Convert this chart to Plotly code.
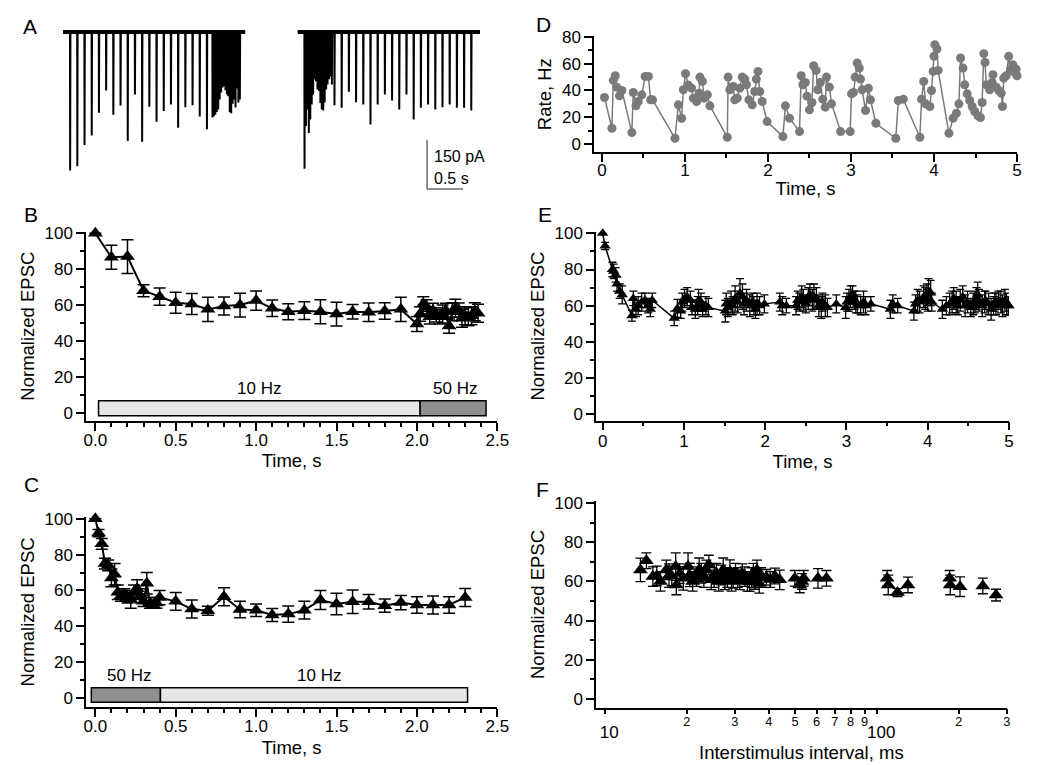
import plotly.graph_objects as go

W, H = 1044, 765
FONT = "Liberation Sans, Arial, Helvetica, sans-serif"

# ---------------- Panel A: example current traces ----------------
a_sweep_len = 2.53          # s
a_right_offset = 3.26       # s, start of the second sweep on the shared time axis
a_left_10hz_start = 0.097
a_left_50hz_start = 2.074
a_right_50hz_start = 0.092
a_right_10hz_start = 0.508
a_left_10hz_amp = [424, 411, 346, 317, 247, 179, 253, 225, 334, 191,
                   336, 229, 275, 242, 222, 293, 230, 224, 259, 298]
a_left_50hz_amp = [262, 258, 253, 245, 237, 207, 185, 170, 166, 178,
                   191, 197, 246, 249, 220, 207, 231, 173, 216, 207]
a_right_50hz_amp = [419, 288, 237, 309, 268, 222, 191, 145, 151, 176,
                    181, 217, 237, 240, 216, 176, 161, 145, 136, 161]
a_right_10hz_amp = [224, 232, 183, 215, 222, 283, 222, 191, 210, 237,
                    191, 268, 232, 222, 237, 230, 222, 232, 232, 240]
scale_t = 0.5    # s
scale_pA = 150   # pA

# ---------------- Panel B ----------------
b_time = [0.0, 0.1, 0.2, 0.3, 0.4, 0.5, 0.6, 0.7, 0.8, 0.9,
          1.0, 1.1, 1.2, 1.3, 1.4, 1.5, 1.6, 1.7, 1.8, 1.9,
          2.0, 2.02, 2.04, 2.06, 2.08, 2.10, 2.12, 2.14, 2.16, 2.18,
          2.20, 2.22, 2.24, 2.26, 2.28, 2.30, 2.32, 2.34, 2.36, 2.38]
b_val = [100, 86.6, 87, 68, 64.7, 61.3, 60.6, 57.6, 59.5, 60,
         62.5, 58.2, 56.3, 56.9, 56.3, 55, 56.3, 56, 56.7, 57.6,
         49.4, 55, 60.6, 59, 53.5, 57, 54.5, 53.5, 55, 57,
         48.3, 56.3, 58.2, 57.2, 52.6, 54, 53.5, 54, 56.3, 55.4]
b_err = [None, 6.7, 9.4, 3.3, 4.8, 5.9, 5.8, 6.7, 5, 6.6,
         5.4, 4.6, 4.5, 4.9, 6.7, 6.6, 4, 5.1, 4.6, 6.7,
         4.2, 4, 4, 4, 4, 4, 4, 4, 5, 4,
         4, 5, 5, 4, 5, 5, 5, 5, 5, 5]
b_bar_labels = ["10 Hz", "50 Hz"]
b_bar_start = [0.02, 2.02]
b_bar_end = [2.02, 2.43]

# ---------------- Panel C ----------------
c_time = [0.0, 0.02, 0.04, 0.06, 0.08, 0.10, 0.12, 0.14, 0.16, 0.18,
          0.20, 0.22, 0.24, 0.26, 0.28, 0.30, 0.32, 0.34, 0.36, 0.38,
          0.4, 0.5, 0.6, 0.7, 0.8, 0.9, 1.0, 1.1, 1.2, 1.3,
          1.4, 1.5, 1.6, 1.7, 1.8, 1.9, 2.0, 2.1, 2.2, 2.3]
c_val = [100, 92, 86, 75, 74, 67, 69, 59, 57, 58,
         56, 55, 59, 61, 57, 54, 64, 53, 52, 53,
         56, 53.9, 49.6, 48.7, 56.5, 49.4, 49, 46.3, 46.8, 49,
         54.6, 52.4, 53.7, 53.7, 51.5, 53.2, 51.9, 51.9, 51.9, 56.1]
c_err = [None, 2, 3, 3, 3, 5, 6, 4, 3, 3,
         3, 5, 4, 5, 4, 3, 6, 3, 2, 3,
         4, 5, 5, 2.5, 5, 4.6, 3.5, 3.6, 4.5, 5,
         5.3, 6, 6.5, 4, 3.7, 4, 4.6, 5, 4.6, 5]
c_bar_labels = ["50 Hz", "10 Hz"]
c_bar_start = [-0.025, 0.405]
c_bar_end = [0.405, 2.315]

# ---------------- Panel D: instantaneous rate ----------------
d_time = [0.03, 0.12, 0.136, 0.16, 0.177, 0.21, 0.24, 0.36, 0.377, 0.41,
          0.437, 0.48, 0.52, 0.56, 0.586, 0.61, 0.88, 0.92, 0.96, 0.98,
          1.007, 1.04, 1.08, 1.10, 1.14, 1.17, 1.18, 1.21, 1.23, 1.27,
          1.30, 1.51, 1.52, 1.54, 1.58, 1.60, 1.63, 1.66, 1.69, 1.72,
          1.74, 1.77, 1.81, 1.84, 1.86, 1.88, 1.90, 1.93, 1.99, 2.18,
          2.21, 2.26, 2.38, 2.40, 2.42, 2.45, 2.47, 2.50, 2.53, 2.55,
          2.58, 2.60, 2.63, 2.66, 2.69, 2.705, 2.74, 2.766, 2.875, 2.99,
          3.006, 3.03, 3.05, 3.075, 3.10, 3.115, 3.135, 3.175, 3.21, 3.235,
          3.30, 3.54, 3.57, 3.63, 3.83, 3.85, 3.876, 3.90, 3.95, 3.97,
          3.99, 4.00, 4.01, 4.036, 4.05, 4.18, 4.23, 4.27, 4.30, 4.32,
          4.35, 4.37, 4.40, 4.43, 4.46, 4.49, 4.53, 4.56, 4.58, 4.60,
          4.615, 4.63, 4.67, 4.70, 4.71, 4.75, 4.78, 4.81, 4.825, 4.84,
          4.87, 4.90, 4.92, 4.95, 4.97, 4.99, 5.0]
d_rate = [34.75, 11.75, 47.5, 51, 42.5, 36, 40, 8.5, 38.5, 28.5,
          31.75, 36.75, 50.5, 50.5, 33, 33, 4.25, 29.25, 19.25, 40.5,
          52.5, 44, 41.75, 34.25, 31.75, 38, 50, 46.75, 34.25, 36.75,
          28.5, 5, 50, 40.5, 43, 33, 34.25, 41.75, 50, 48.5,
          44.25, 33, 29.25, 39.25, 48.5, 54.25, 39.25, 31.75, 16.75, 5.5,
          28.5, 19.25, 9.25, 51, 44.25, 46, 35.75, 25.5, 31, 58.5,
          55, 40.5, 46, 33.5, 27.5, 50, 42.5, 30, 9.25, 9.25,
          37.5, 38.5, 50, 60.5, 56.75, 48.5, 40.5, 25, 41.75, 33,
          15.5, 4.25, 32.5, 33.5, 5, 33.5, 46.75, 30, 28, 40,
          54.25, 65.5, 74.25, 71, 55, 8, 19.25, 23, 30, 64.25,
          56.75, 44.25, 37.5, 32.5, 28, 24.25, 21, 19.75, 31, 67.5,
          61, 44.25, 40.5, 46, 51.75, 42.5, 40, 38, 28, 49.25,
          51, 65.5, 55.5, 59.25, 53.5, 56, 51]

# ---------------- Panel E: EPSC during the irregular train ----------------
e_time = [0.0] + d_time
e_val = [100, 93, 80, 79, 77, 72, 68, 66, 54.5, 64,
         58, 60, 62, 63, 60, 58, 63, 53, 58.5, 57,
         62, 64, 65, 63, 59, 58, 60, 63, 62, 58,
         60, 59, 57, 61, 59, 62, 60, 64, 62, 67,
         65, 61, 63, 60, 62, 60, 58, 61, 60, 61,
         62, 60, 60, 60, 63, 62, 65, 63, 61, 64,
         66, 63, 65, 64, 60, 59, 62, 60, 59, 61,
         59, 62, 63, 65, 66, 63, 62, 61, 60, 62,
         60, 61, 58, 61, 60, 57, 61, 63, 62, 65,
         64, 66, 63, 68, 67, 62, 58, 60, 61, 62,
         64, 62, 60, 63, 65, 60, 62, 59, 61, 62,
         64, 66, 63, 60, 62, 63, 61, 58, 60, 62,
         61, 63, 62, 60, 63, 61, 60, 60]
e_err = [None, 2, 4, 4, 4, 4, 4, 5, 3, 4,
         4, 5, 5, 4, 4, 4, 4, 4, 5, 4,
         5, 5, 5, 5, 4, 5, 5, 6, 5, 4,
         5, 5, 6, 6, 5, 6, 5, 7, 6, 8,
         7, 6, 6, 6, 5, 5, 5, 6, 5, 5,
         5, 5, 4, 5, 5, 5, 6, 6, 5, 6,
         6, 6, 7, 6, 6, 6, 5, 6, 5, 5,
         6, 5, 6, 6, 5, 5, 6, 5, 5, 6,
         5, 4, 5, 5, 4, 5, 5, 6, 6, 6,
         6, 6, 6, 7, 7, 5, 5, 5, 6, 6,
         6, 6, 5, 6, 6, 6, 6, 5, 6, 6,
         6, 7, 6, 6, 6, 5, 6, 6, 5, 5,
         6, 5, 6, 6, 6, 6, 5, 5]

# ---------------- Panel F: EPSC vs interstimulus interval ----------------
f_isi = [13.5, 14.2, 15.0, 15.5, 16.0, 16.8, 17.2, 17.6, 18.2, 18.3,
         18.8, 19.4, 20.2, 20.5, 21.0, 21.7, 22.2, 22.6, 23.1, 23.6,
         24.1, 24.6, 25.2, 25.7, 26.2, 26.8, 27.2, 27.6, 28.2, 28.8,
         29.2, 29.6, 30.2, 30.8, 31.3, 32.0, 32.7, 33.4, 34.0, 34.6,
         35.1, 35.6, 36.2, 36.9, 37.5, 39.2, 40.5, 42.1, 43.9, 49.9,
         52.0, 53.0, 53.8, 60.7, 65.2, 109, 110, 119, 130, 185,
         186, 202, 245, 274]
f_val = [65.9, 70.6, 62.5, 62.8, 60, 65.9, 63, 62.8, 67.6, 58.2,
         64, 61.6, 67.6, 63.3, 60, 62.5, 66, 64.2, 62, 65.9,
         68.4, 60.8, 63, 64.2, 60, 63.3, 66, 60.8, 62, 65,
         60, 61.6, 64.2, 62, 60.8, 64, 62.5, 60, 59.9, 62,
         64.2, 61, 65.9, 59, 62, 62.1, 61, 62.8, 60.8, 61.6,
         58.2, 60, 61.6, 61.6, 61.6, 61.6, 58.2, 54.3, 58.2, 61.6,
         58.2, 57.3, 57.7, 53]
f_err = [6, 4, 5, 5, 5, 5, 6, 5, 7, 5, 5, 6, 7, 6, 5, 5, 6, 5, 5, 5,
         5, 5, 6, 5, 5, 5, 6, 5, 5, 6, 5, 5, 5, 5, 5, 5, 5, 5, 5, 5,
         5, 5, 5, 5, 5, 4, 4, 4, 5, 4, 4, 4, 4, 5, 4, 4, 5, 2, 4, 4,
         5, 5, 4, 3]

# =================================================================
TICK_SIZE = 17
TITLE_SIZE = 18.5


def fx(p):
    return p / W


def fy(p):
    return 1 - p / H


fig = go.Figure()

# ---- Panel A traces (axis x6/y6) ----
def build_sweep(offset, trains):
    xs, ys = [offset], [0]
    for start, period, amps in trains:
        for k, a in enumerate(amps):
            t = offset + start + k * period
            xs += [t, t + 0.002, t + 0.006]
            ys += [0, -a, 0]
    xs.append(offset + a_sweep_len)
    ys.append(0)
    return xs, ys


sweeps = [
    (0.0, [(a_left_10hz_start, 0.1, a_left_10hz_amp), (a_left_50hz_start, 0.02, a_left_50hz_amp)]),
    (a_right_offset, [(a_right_50hz_start, 0.02, a_right_50hz_amp), (a_right_10hz_start, 0.1, a_right_10hz_amp)]),
]
for off, trains in sweeps:
    xs, ys = build_sweep(off, trains)
    fig.add_trace(go.Scatter(x=[off, off + a_sweep_len], y=[0, 0], mode="lines",
                             line=dict(color="black", width=4), xaxis="x6", yaxis="y6",
                             showlegend=False, hoverinfo="skip"))
    fig.add_trace(go.Scatter(x=xs, y=ys, mode="lines", line=dict(color="black", width=2),
                             xaxis="x6", yaxis="y6", showlegend=False, hoverinfo="skip"))

sb_x0 = 5.056
sb_y0 = -480.6
fig.add_trace(go.Scatter(x=[sb_x0, sb_x0, sb_x0 + scale_t], y=[sb_y0 + scale_pA, sb_y0, sb_y0],
                         mode="lines", line=dict(color="#222", width=1),
                         xaxis="x6", yaxis="y6", showlegend=False, hoverinfo="skip"))

# ---- Panel B ----
fig.add_trace(go.Scatter(x=b_time, y=b_val, mode="lines+markers", cliponaxis=False,
                         line=dict(color="black", width=2),
                         marker=dict(symbol="triangle-up", size=13, color="black"),
                         error_y=dict(type="data", array=b_err, color="black", thickness=1.5, width=6),
                         xaxis="x", yaxis="y", showlegend=False))
# ---- Panel C ----
fig.add_trace(go.Scatter(x=c_time, y=c_val, mode="lines+markers", cliponaxis=False,
                         line=dict(color="black", width=2),
                         marker=dict(symbol="triangle-up", size=13, color="black"),
                         error_y=dict(type="data", array=c_err, color="black", thickness=1.5, width=6),
                         xaxis="x2", yaxis="y2", showlegend=False))
# ---- Panel D ----
fig.add_trace(go.Scatter(x=d_time, y=d_rate, mode="lines+markers", cliponaxis=False,
                         line=dict(color="#7a7a7a", width=1.5),
                         marker=dict(symbol="circle", size=9, color="#7a7a7a"),
                         xaxis="x3", yaxis="y3", showlegend=False))
# ---- Panel E ----
fig.add_trace(go.Scatter(x=e_time, y=e_val, mode="lines+markers", cliponaxis=False,
                         line=dict(color="black", width=1.5),
                         marker=dict(symbol="triangle-up", size=10, color="black"),
                         error_y=dict(type="data", array=e_err, color="black", thickness=1.3, width=4),
                         xaxis="x4", yaxis="y4", showlegend=False))
# ---- Panel F ----
fig.add_trace(go.Scatter(x=f_isi, y=f_val, mode="markers",
                         marker=dict(symbol="triangle-up", size=13, color="black"),
                         error_y=dict(type="data", array=f_err, color="black", thickness=1.3, width=5),
                         xaxis="x5", yaxis="y5", showlegend=False))


def axis(domain, rng, anchor, title="", standoff=4, dtick=None, minor=None, ticklen=8, **kw):
    d = dict(domain=domain, range=rng, anchor=anchor, ticks="outside", ticklen=ticklen,
             tickwidth=1.5, tickcolor="black", showline=True, linecolor="black", linewidth=1.5,
             showgrid=False, zeroline=False, automargin=False,
             tickfont=dict(size=TICK_SIZE, color="black", family=FONT),
             title=dict(text=title, font=dict(size=TITLE_SIZE, color="black", family=FONT),
                        standoff=standoff))
    if dtick is not None:
        d["dtick"] = dtick
        d["tick0"] = 0
    if minor is not None:
        d["minor"] = dict(dtick=minor, tick0=0, ticks="outside", ticklen=4, tickwidth=1.5,
                          tickcolor="black", showgrid=False)
    d.update(kw)
    return d


yt = dict(tickvals=[0, 20, 40, 60, 80, 100])
layout = dict(
    width=W, height=H, autosize=False, margin=dict(l=0, r=0, t=0, b=0),
    paper_bgcolor="white", plot_bgcolor="white",
    font=dict(family=FONT, color="black"),
    # B
    xaxis=axis([fx(86), fx(497.3)], [-0.058, 2.5], "y", "Time, s", 4, 0.5, 0.1,
               tickformat=".1f", ticklabelstandoff=-5),
    yaxis=axis([fy(420.8), fy(231.5)], [-4.5, 101], "x", "Normalized EPSC", 5, None, 10, **yt),
    # C
    xaxis2=axis([fx(86), fx(497.3)], [-0.058, 2.5], "y2", "Time, s", 6, 0.5, 0.1,
                tickformat=".1f", ticklabelstandoff=-5),
    yaxis2=axis([fy(707), fy(516.9)], [-5, 101], "x2", "Normalized EPSC", 5, None, 10, **yt),
    # D
    xaxis3=axis([fx(594), fx(1017)], [-0.096, 5], "y3", "Time, s", 3, 1, 0.5,
                ticklabelstandoff=-6),
    yaxis3=axis([fy(152), fy(36.3)], [-6, 80.5], "x3", "Rate, Hz", 5, 20, 10),
    # E
    xaxis4=axis([fx(596), fx(1009)], [-0.082, 5], "y4", "Time, s", 5, 1, 0.5,
                ticklabelstandoff=-4),
    yaxis4=axis([fy(420.6), fy(231.5)], [-3.5, 101], "x4", "Normalized EPSC", 5, None, 10, **yt),
    # F
    xaxis5=axis([fx(596), fx(1006.7)], [0.967, 2.477], "y5", "Interstimulus interval, ms", 3,
                "D1", None, 5, type="log", ticklabelstandoff=-5),
    yaxis5=axis([fy(707.7), fy(501.3)], [-4.6, 101], "x5", "Normalized EPSC", 5, None, 10, **yt),
    # A
    xaxis6=dict(domain=[fx(60), fx(490)], range=[-0.0417, 5.93], visible=False, anchor="y6"),
    yaxis6=dict(domain=[fy(195), fy(25)], range=[-499, 21.4], visible=False, anchor="x6"),
)

shapes = []
bar_light, bar_dark = "#e6e6e6", "#8f8f8f"
for s, e, lab in zip(b_bar_start, b_bar_end, b_bar_labels):
    shapes.append(dict(type="rect", xref="x", yref="y", x0=s, x1=e, y0=-1.7, y1=6.7,
                       fillcolor=bar_light if lab == "10 Hz" else bar_dark,
                       line=dict(color="black", width=1.5), layer="above"))
for s, e, lab in zip(c_bar_start, c_bar_end, c_bar_labels):
    shapes.append(dict(type="rect", xref="x2", yref="y2", x0=s, x1=e, y0=-2.4, y1=5.8,
                       fillcolor=bar_light if lab == "10 Hz" else bar_dark,
                       line=dict(color="black", width=1.5), layer="above"))
layout["shapes"] = shapes

ann = []
for s, e, lab in zip(b_bar_start, b_bar_end, b_bar_labels):
    xc = (s + e) / 2 if lab == "10 Hz" else 2.24
    ann.append(dict(x=xc, y=13.6, xref="x", yref="y", text=lab, showarrow=False,
                    font=dict(size=TICK_SIZE, color="black", family=FONT)))
for s, e, lab in zip(c_bar_start, c_bar_end, c_bar_labels):
    xc = 0.21 if lab == "50 Hz" else 1.39
    ann.append(dict(x=xc, y=12.8, xref="x2", yref="y2", text=lab, showarrow=False,
                    font=dict(size=TICK_SIZE, color="black", family=FONT)))
# scale bar labels
ann.append(dict(x=sb_x0 + 0.07, y=sb_y0 + 100, xref="x6", yref="y6", text="150 pA",
                showarrow=False, xanchor="left", font=dict(size=16, color="black", family=FONT)))
ann.append(dict(x=sb_x0 + 0.07, y=sb_y0 + 32, xref="x6", yref="y6", text="0.5 s",
                showarrow=False, xanchor="left", font=dict(size=16, color="black", family=FONT)))
# panel letters
for lab, px, py in [("A", 21, 13), ("B", 22, 201), ("C", 22, 471),
                    ("D", 534, 11), ("E", 536, 201), ("F", 534, 476)]:
    ann.append(dict(x=fx(px), y=fy(py), xref="paper", yref="paper", text=lab, showarrow=False,
                    xanchor="left", yanchor="top", font=dict(size=21, color="black", family=FONT)))
layout["annotations"] = ann

fig.update_layout(**layout)
fig.write_html("out.html", config={"displayModeBar": False},
               post_script="document.body.style.margin='0px';document.body.style.overflow='hidden';")
